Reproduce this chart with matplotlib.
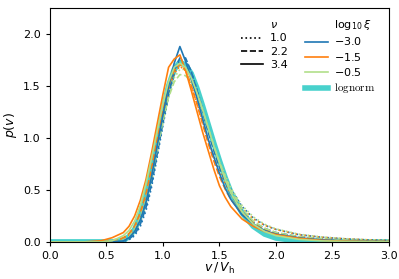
import matplotlib
matplotlib.use('Agg')
import matplotlib.pyplot as plt
from matplotlib.lines import Line2D

v = [0.0, 0.3, 0.45, 0.55, 0.65, 0.7, 0.75, 0.8, 0.85, 0.9, 0.95, 1.0, 1.05, 1.1, 1.15,
     1.2, 1.25, 1.3, 1.35, 1.4, 1.45, 1.5, 1.55, 1.6, 1.7, 1.8, 1.9, 2.0, 2.2, 2.4, 2.6, 2.8, 3.0]

p_lognorm = [0, 0, 0, 0, 0.015, 0.05, 0.12, 0.25, 0.45, 0.70, 0.98, 1.26, 1.50, 1.66, 1.73,
             1.70, 1.62, 1.48, 1.31, 1.13, 0.95, 0.78, 0.62, 0.48, 0.28, 0.15, 0.075, 0.037, 0.008, 0.002, 0, 0, 0]

# nu = 3.4 (solid)
p_blue_34 = [0, 0, 0, 0, 0.01, 0.04, 0.10, 0.21, 0.38, 0.63, 0.93, 1.22, 1.50, 1.72, 1.88,
             1.74, 1.57, 1.39, 1.19, 0.99, 0.82, 0.66, 0.52, 0.41, 0.26, 0.17, 0.11, 0.075, 0.04, 0.02, 0.01, 0.006, 0.003]
p_orange_34 = [0, 0, 0.01, 0.04, 0.09, 0.15, 0.25, 0.40, 0.60, 0.86, 1.14, 1.42, 1.68, 1.76, 1.80,
               1.65, 1.46, 1.26, 1.06, 0.88, 0.70, 0.54, 0.43, 0.34, 0.22, 0.15, 0.10, 0.07, 0.035, 0.015, 0.008, 0.004, 0.002]
p_green_34 = [0, 0, 0, 0.01, 0.06, 0.11, 0.20, 0.35, 0.56, 0.81, 1.07, 1.33, 1.54, 1.68, 1.72,
              1.68, 1.58, 1.44, 1.28, 1.10, 0.92, 0.76, 0.60, 0.47, 0.29, 0.17, 0.10, 0.06, 0.025, 0.01, 0.005, 0.002, 0.001]

# nu = 2.2 (dashed)
p_blue_22 = [0, 0, 0, 0, 0.008, 0.03, 0.07, 0.17, 0.33, 0.56, 0.85, 1.15, 1.42, 1.65, 1.77,
             1.77, 1.64, 1.46, 1.26, 1.06, 0.88, 0.72, 0.58, 0.46, 0.30, 0.19, 0.13, 0.09, 0.05, 0.03, 0.018, 0.01, 0.006]
p_orange_22 = [0, 0, 0, 0.01, 0.04, 0.08, 0.15, 0.28, 0.46, 0.71, 0.99, 1.27, 1.50, 1.65, 1.71,
               1.65, 1.51, 1.33, 1.14, 0.95, 0.78, 0.63, 0.51, 0.41, 0.27, 0.18, 0.12, 0.085, 0.045, 0.025, 0.014, 0.008, 0.005]
p_green_22 = [0, 0, 0, 0, 0.015, 0.05, 0.12, 0.23, 0.40, 0.63, 0.90, 1.16, 1.39, 1.54, 1.61,
              1.60, 1.54, 1.42, 1.27, 1.10, 0.93, 0.77, 0.63, 0.50, 0.32, 0.20, 0.13, 0.09, 0.05, 0.03, 0.018, 0.01, 0.006]

# nu = 1.0 (dotted)
p_blue_10 = [0, 0, 0, 0, 0.006, 0.02, 0.06, 0.15, 0.30, 0.53, 0.82, 1.12, 1.40, 1.62, 1.75,
             1.75, 1.64, 1.47, 1.28, 1.09, 0.92, 0.76, 0.63, 0.51, 0.34, 0.23, 0.16, 0.12, 0.07, 0.045, 0.03, 0.02, 0.013]
p_orange_10 = [0, 0, 0, 0.005, 0.025, 0.06, 0.12, 0.23, 0.41, 0.65, 0.93, 1.22, 1.46, 1.62, 1.69,
               1.65, 1.51, 1.34, 1.16, 0.98, 0.82, 0.68, 0.56, 0.46, 0.32, 0.22, 0.16, 0.12, 0.07, 0.045, 0.03, 0.02, 0.013]
p_green_10 = [0, 0, 0, 0, 0.012, 0.04, 0.09, 0.19, 0.35, 0.58, 0.86, 1.15, 1.41, 1.58, 1.66,
              1.66, 1.58, 1.44, 1.27, 1.09, 0.92, 0.77, 0.64, 0.52, 0.35, 0.24, 0.17, 0.125, 0.075, 0.048, 0.032, 0.021, 0.014]

nu_labels = ['1.0', '2.2', '3.4']
xi_labels = [r'$-3.0$', r'$-1.5$', r'$-0.5$']
colors = ['#1f77b4', '#ff7f0e', '#b2df8a']
styles = [':', '--', '-']

curves = [[p_blue_10, p_orange_10, p_green_10],
          [p_blue_22, p_orange_22, p_green_22],
          [p_blue_34, p_orange_34, p_green_34]]

fig = plt.figure(figsize=(3.99, 2.79), dpi=100)
ax = fig.add_axes([0.125, 0.133, 0.85, 0.838])

ax.plot(v, p_lognorm, color='mediumturquoise', lw=4, zorder=1)
for i in range(3):
    for j in range(3):
        ax.plot(v, curves[i][j], color=colors[j], ls=styles[i], lw=1.2, zorder=2)

ax.set_xlim(0, 3)
ax.set_ylim(0, 2.25)
ax.set_xticks([0, 0.5, 1.0, 1.5, 2.0, 2.5, 3.0])
ax.set_yticks([0, 0.5, 1.0, 1.5, 2.0])
ax.tick_params(labelsize=8, length=3)
ax.set_xlabel(r'$v\,/\,V_{\rm h}$', fontsize=9, labelpad=0)
ax.set_ylabel(r'$p(v)$', fontsize=9, labelpad=3)

blank = Line2D([], [], color='none')
handles = [blank] + [Line2D([], [], color='k', ls=s, lw=1.2) for s in styles] + [blank]
labels = [r'$\nu$'] + nu_labels + ['']
handles += [blank] + [Line2D([], [], color=c, lw=1.2) for c in colors]
handles += [Line2D([], [], color='mediumturquoise', lw=4)]
labels += [r'$\log_{10}\xi$'] + xi_labels + [r'$\mathrm{lognorm}$']

leg = ax.legend(handles, labels, ncol=2, frameon=False, fontsize=8,
                loc='upper right', bbox_to_anchor=(0.99, 1.0),
                handlelength=2.0, handletextpad=0.6, columnspacing=1.6,
                labelspacing=0.3)
leg.get_texts()[-1].set_math_fontfamily('cm')

fig.savefig('out.png', dpi=100)
